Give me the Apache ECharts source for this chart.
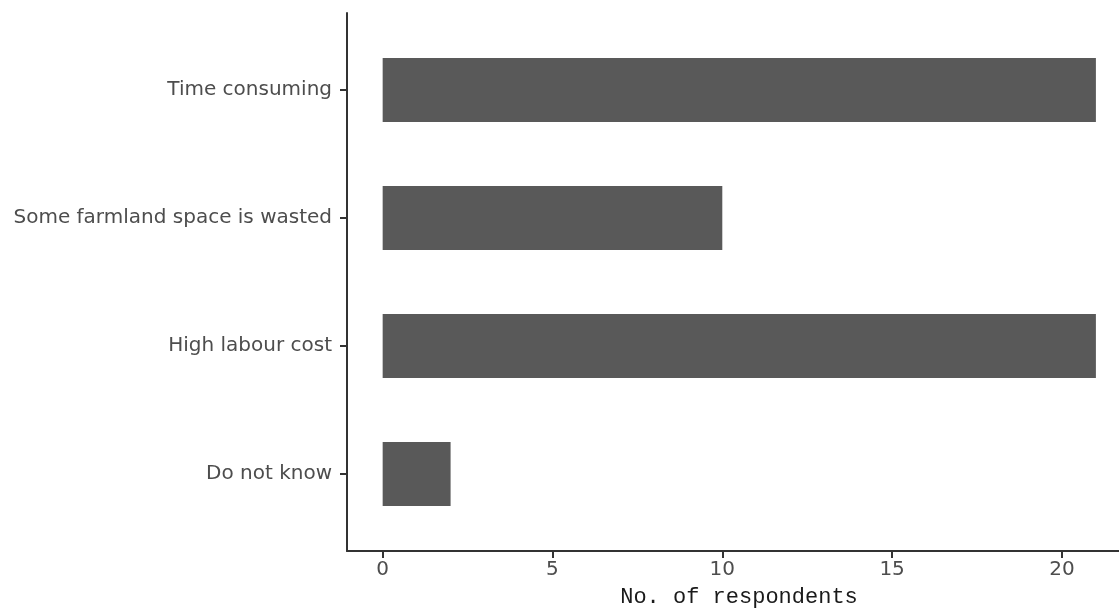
<!DOCTYPE html>
<html>
<head>
<meta charset="utf-8">
<script src="https://cdn.jsdelivr.net/npm/echarts@6/dist/echarts.min.js"></script>
<style>
html,body{margin:0;padding:0;background:#fff;}
#chart{width:1119px;height:613px;}
</style>
</head>
<body>
<div id="chart"></div>
<script>
var categories = ["Time consuming", "Some farmland space is wasted", "High labour cost", "Do not know"];
var respondents = [21, 10, 21, 2];
var xTicks = [0, 5, 10, 15, 20];
var xTitle = "No. of respondents";

var xMin = -1.05, xMax = 21.68;
var labelFont = "DejaVu Sans";
var chart = echarts.init(document.getElementById('chart'), null, {renderer: 'canvas'});
chart.setOption({
  backgroundColor: '#ffffff',
  animation: false,
  grid: [
    {left: 347, top: 13, right: 0, height: 538, containLabel: false},
    {left: 347, top: 26, right: 0, height: 512, containLabel: false}
  ],
  xAxis: [
    {
      gridIndex: 0, type: 'value', min: xMin, max: xMax,
      axisLine: {show: true, onZero: false, lineStyle: {color: '#333333', width: 2}},
      axisTick: {show: true, customValues: xTicks, length: 7, lineStyle: {color: '#333333', width: 2}},
      axisLabel: {show: true, customValues: xTicks, margin: 9, color: '#4d4d4d', fontFamily: labelFont, fontSize: 20},
      splitLine: {show: false},
      name: xTitle, nameLocation: 'middle', nameGap: 35,
      nameTextStyle: {color: '#1a1a1a', fontFamily: 'Liberation Mono', fontSize: 22, padding: [0, 0, 0, 12]}
    },
    {
      gridIndex: 1, type: 'value', min: xMin, max: xMax, show: false
    }
  ],
  yAxis: [
    {
      gridIndex: 0, type: 'value', min: 0, max: 1,
      axisLine: {show: true, onZero: false, lineStyle: {color: '#333333', width: 2}},
      axisTick: {show: false}, axisLabel: {show: false}, splitLine: {show: false}
    },
    {
      gridIndex: 1, type: 'category', data: categories, inverse: true,
      axisLine: {show: false, onZero: false},
      axisTick: {show: true, alignWithLabel: true, length: 7, lineStyle: {color: '#333333', width: 2}},
      axisLabel: {margin: 15, color: '#4d4d4d', fontFamily: labelFont, fontSize: 20},
      splitLine: {show: false}
    }
  ],
  series: [{
    type: 'bar',
    xAxisIndex: 1, yAxisIndex: 1,
    data: respondents,
    barWidth: 64,
    itemStyle: {color: '#595959'}
  }]
});
</script>
</body>
</html>
